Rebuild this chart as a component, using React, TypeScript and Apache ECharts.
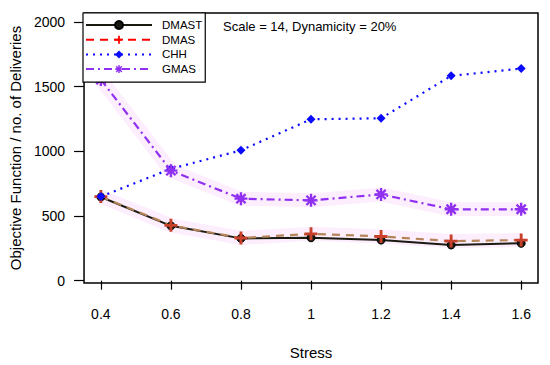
import { useEffect, useRef } from "react";
import * as echarts from "echarts";

const stress = [0.4, 0.6, 0.8, 1.0, 1.2, 1.4, 1.6];
const dmast = [647, 424, 327, 332, 314, 276, 289];
const dmas = [650, 428, 330, 362, 342, 306, 314];
const chh = [650, 865, 1008, 1248, 1256, 1584, 1640];
const gmas = [1555, 851, 634, 621, 667, 552, 552];
const xTicks = [0.4, 0.6, 0.8, 1.0, 1.2, 1.4, 1.6];
const yTicks = [0, 500, 1000, 1500, 2000];
const seriesNames = ["DMAST", "DMAS", "CHH", "GMAS"];
const annotation = "Scale = 14, Dynamicity = 20%";
const xTitle = "Stress";
const yTitle = "Objective Function / no. of Deliveries";

const PLUS =
  "path://M-1.1,-5L1.1,-5L1.1,-1.1L5,-1.1L5,1.1L1.1,1.1L1.1,5L-1.1,5L-1.1,1.1L-5,1.1L-5,-1.1L-1.1,-1.1Z";
const STAR =
  "path://M-5,-0.9L5,-0.9L5,0.9L-5,0.9Z M-0.9,-5L0.9,-5L0.9,5L-0.9,5Z M-2.9,-4.17L4.17,2.9L2.9,4.17L-4.17,-2.9Z M-4.17,2.9L2.9,-4.17L4.17,-2.9L-2.9,4.17Z";

const FONT = "'Liberation Sans', Arial, Helvetica, sans-serif";

const pairs = (ys: number[]) => stress.map((x, i) => [x, ys[i]]);

export default function App() {
  const ref = useRef<HTMLDivElement>(null);
  useEffect(() => {
    if (!ref.current) return;
    const chart = echarts.init(ref.current, null, { renderer: "svg" });
    const band = "#fdeefd";
    chart.setOption({
      animation: false,
      backgroundColor: "#fff",
      textStyle: { fontFamily: FONT },
      grid: {
        left: 83,
        top: 13,
        right: 12,
        bottom: 80,
        show: true,
        borderColor: "#000",
        borderWidth: 1.5,
        containLabel: false,
      },
      legend: {
        orient: "vertical",
        left: 83,
        top: 13,
        z: 20,
        data: [
          { name: "DMAST" },
          { name: "DMAS", itemStyle: { color: "#ff0000" }, lineStyle: { color: "#ff0000" } },
          { name: "CHH" },
          { name: "GMAS" },
        ],
        itemWidth: 66,
        itemHeight: 10,
        itemGap: 2.7,
        padding: [6, 3, 7, 2],
        borderColor: "#000",
        borderWidth: 1.2,
        backgroundColor: "#fff",
        borderRadius: 0,
        textStyle: { fontSize: 11.5, color: "#000", fontFamily: FONT, padding: [0, 0, 0, 5] },
      },
      graphic: [
        {
          type: "text",
          left: 223,
          top: 20,
          z: 10,
          style: { text: annotation, font: `13px ${FONT}`, fill: "#000" },
        },
      ],
      xAxis: {
        type: "value",
        min: 0.352,
        max: 1.648,
        axisLine: { show: false },
        axisTick: { show: true, inside: false, length: 9, customValues: xTicks, lineStyle: { color: "#000", width: 1.2 } },
        axisLabel: {
          customValues: xTicks,
          margin: 24,
          fontSize: 14,
          color: "#000",
          fontFamily: FONT,
          formatter: (v: number) => String(Math.round(v * 10) / 10),
        },
        splitLine: { show: false },
        name: xTitle,
        nameLocation: "middle",
        nameGap: 62,
        nameTextStyle: { fontSize: 15, color: "#000", fontFamily: FONT },
      },
      yAxis: {
        type: "value",
        min: -18,
        max: 2070,
        axisLine: { show: false },
        axisTick: { show: true, inside: false, length: 10, customValues: yTicks, lineStyle: { color: "#000", width: 1.2 } },
        axisLabel: {
          customValues: yTicks,
          margin: 19,
          fontSize: 14,
          color: "#000",
          fontFamily: FONT,
          formatter: (v: number) => String(Math.round(v)),
        },
        splitLine: { show: false },
        name: yTitle,
        nameLocation: "middle",
        nameGap: 57,
        nameTextStyle: { fontSize: 15, color: "#000", fontFamily: FONT },
      },
      series: [
        {
          name: "bandDMAS",
          type: "line",
          data: pairs(dmas),
          symbol: "none",
          silent: true,
          z: 1,
          lineStyle: { color: band, width: 14 },
        },
        {
          name: "bandGMAS",
          type: "line",
          data: pairs(gmas),
          symbol: "none",
          silent: true,
          z: 1,
          lineStyle: { color: band, width: 14 },
        },
        {
          name: seriesNames[0],
          type: "line",
          data: pairs(dmast),
          symbol: "circle",
          symbolSize: 8,
          color: "#111",
          lineStyle: { color: "#1a1a10", width: 2 },
          itemStyle: { color: "#1a1a10", borderColor: "#000", borderWidth: 1 },
          z: 2,
        },
        {
          name: seriesNames[1],
          type: "line",
          data: pairs(dmas),
          symbol: PLUS,
          symbolSize: 13,
          color: "#c8402a",
          lineStyle: { color: "#b5855a", width: 2.2, type: [8, 6] },
          itemStyle: { color: "#c8402a" },
          z: 2,
        },
        {
          name: seriesNames[2],
          type: "line",
          data: pairs(chh),
          symbol: "diamond",
          symbolSize: 9,
          color: "#0a0aff",
          lineStyle: { color: "#0a0aff", width: 2.2, type: [2, 5] },
          itemStyle: { color: "#0a0aff" },
          z: 2,
        },
        {
          name: seriesNames[3],
          type: "line",
          data: pairs(gmas),
          symbol: STAR,
          symbolSize: 13,
          color: "#9030f0",
          lineStyle: { color: "#9030f0", width: 2.2, type: [8, 4, 2, 4] },
          itemStyle: { color: "#9030f0" },
          z: 2,
        },
      ],
    });
    return () => chart.dispose();
  }, []);
  return (
    <div
      ref={ref}
      style={{ position: "fixed", left: 0, top: 0, width: 550, height: 365 }}
    />
  );
}
